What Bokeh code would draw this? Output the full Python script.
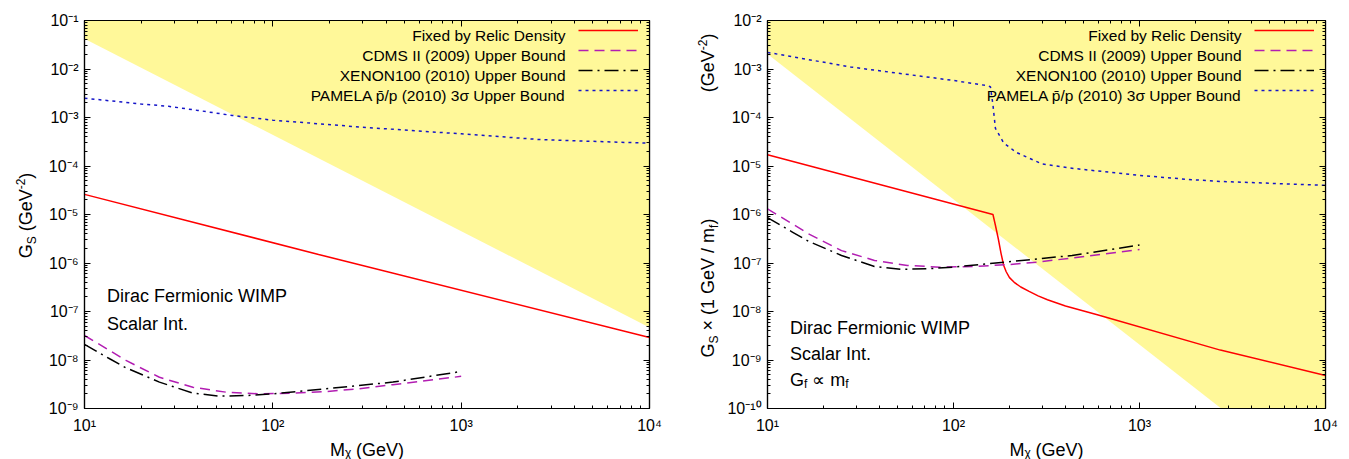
import math
from bokeh.plotting import figure
from bokeh.models import (FixedTicker, CustomJSTickFormatter, LogAxis, Label,
                          Legend, LegendItem, Range1d)
from bokeh.layouts import row
from bokeh.core.properties import value
from bokeh.embed import file_html
from bokeh.resources import INLINE

# ---------------- data ----------------
X_TICKS = [1e1, 1e2, 1e3, 1e4]
L_Y_TICKS = [1e-9, 1e-8, 1e-7, 1e-6, 1e-5, 1e-4, 1e-3, 1e-2, 1e-1]
R_Y_TICKS = [1e-10, 1e-9, 1e-8, 1e-7, 1e-6, 1e-5, 1e-4, 1e-3, 1e-2]

# left panel : G_S
L_excl_x = [10, 1e4]
L_excl_y = [0.042, 4.7e-8]
L_relic_x = [10, 175, 1e4]
L_relic_y = [2.6e-5, 1.5e-6, 2.9e-8]
L_cdms_x = [10, 13.6, 16.6, 25, 37.6, 56.5, 85, 128, 192, 288, 434, 1000]
L_cdms_y = [3.2e-8, 1.57e-8, 9.8e-9, 4.4e-9, 2.75e-9, 2.17e-9, 2.0e-9, 2.07e-9,
            2.24e-9, 2.55e-9, 3.1e-9, 4.6e-9]
L_xenon_x = [10, 13.6, 16.6, 25, 37.6, 52.1, 72.3, 100, 192, 434, 1000]
L_xenon_y = [2.09e-8, 1.06e-8, 6.9e-9, 3.5e-9, 2.07e-9, 1.8e-9, 1.85e-9, 2.0e-9,
             2.55e-9, 3.5e-9, 5.8e-9]
L_pamela_x = [10, 20, 28, 40, 61, 100, 300, 1000, 2630, 1e4]
L_pamela_y = [2.5e-3, 1.9e-3, 1.7e-3, 1.4e-3, 1.1e-3, 8.8e-4, 6.3e-4, 4.6e-4,
              3.5e-4, 2.95e-4]

# right panel : G_S x (1 GeV / m_f)
R_excl_x = [10, 2750, 1e4]
R_excl_y = [2.05e-3, 1e-10, 1e-10]
R_relic_x = [10, 163, 168, 174, 180, 186, 192, 200, 212, 230, 255, 285, 320,
             400, 600, 2720, 1e4]
R_relic_y = [1.7e-5, 1.0e-6, 6.0e-7, 3.2e-7, 1.6e-7, 9.0e-8, 6.6e-8, 5.0e-8,
             4.0e-8, 3.2e-8, 2.6e-8, 2.1e-8, 1.75e-8, 1.3e-8, 8.5e-9, 1.6e-9,
             4.8e-10]
R_cdms_x = [10, 13.6, 16.6, 25, 37.6, 56.5, 85, 128, 192, 288, 434, 1000]
R_cdms_y = [1.3e-6, 6.4e-7, 4.0e-7, 1.8e-7, 1.13e-7, 8.9e-8, 8.2e-8, 8.5e-8,
            9.2e-8, 1.05e-7, 1.27e-7, 1.9e-7]
R_xenon_x = [10, 13.6, 16.6, 25, 37.6, 52.1, 72.3, 100, 192, 434, 1000]
R_xenon_y = [8.6e-7, 4.35e-7, 2.8e-7, 1.43e-7, 8.5e-8, 7.4e-8, 7.6e-8, 8.2e-8,
             1.05e-7, 1.43e-7, 2.35e-7]
R_pamela_x = [10, 28, 100, 148, 158, 163, 168, 186, 218, 300, 443, 1000, 1807,
              2720, 1e4]
R_pamela_y = [2.2e-3, 1.1e-3, 5.8e-4, 4.6e-4, 4.3e-4, 1.8e-4, 6e-5, 3.0e-5,
              1.9e-5, 1.1e-5, 8.9e-6, 6.4e-6, 5.3e-6, 4.8e-6, 4.0e-6]

LEGEND_LABELS = ["Fixed by Relic Density", "CDMS II (2009) Upper Bound",
                 "XENON100 (2010) Upper Bound",
                 "PAMELA p\u0304/p (2010) 3\u03c3 Upper Bound"]

# ---------------- styles ----------------
FONT = "Liberation Sans"
YELLOW = "#FFF899"
RED = "#FF0000"
MAGENTA = "#B21DB2"
BLUE = "#1414C8"
FRAME_H = 388
CANVAS_H = 459

# Arial advance widths (1/1000 em)
WID = {"G": 778, "S": 667, " ": 278, "(": 333, ")": 333, "e": 556, "V": 667,
       "-": 333, "2": 556, "\u00d7": 584, "1": 556, "/": 278, "m": 833,
       "f": 278, "M": 833, "\u03c7": 520, "\u221d": 720}


def tw(s, size):
    return sum(WID.get(c, 556) for c in s) * size / 1000.0


def pw(pieces):
    return sum(tw(t, s) for t, s, _ in pieces)


FMT = CustomJSTickFormatter(code="""
const e = Math.round(Math.log10(tick));
const m = {'-':'\u207b','0':'\u2070','1':'\u00b9','2':'\u00b2','3':'\u00b3',
           '4':'\u2074','5':'\u2075','6':'\u2076','7':'\u2077','8':'\u2078','9':'\u2079'};
return '10' + String(e).split('').map(c => m[c]).join('');
""")
BLANK = CustomJSTickFormatter(code="return ' ';")


def minors(ticks):
    return [m * t for t in ticks[:-1] for m in range(2, 10)]


def style_axis(ax, ticks, labels, standoff=6):
    ax.ticker = FixedTicker(ticks=ticks, minor_ticks=minors(ticks))
    ax.major_tick_in = 6
    ax.major_tick_out = 0
    ax.minor_tick_in = 3
    ax.minor_tick_out = 0
    ax.axis_line_color = "black"
    ax.axis_line_width = 1.2
    ax.major_tick_line_color = "black"
    ax.minor_tick_line_color = "black"
    if labels:
        ax.formatter = FMT
        ax.major_label_text_font = FONT
        ax.major_label_text_font_size = "16px"
        ax.major_label_text_color = "black"
        ax.major_label_standoff = standoff
    else:
        ax.formatter = BLANK
        ax.major_label_text_font_size = "2px"
        ax.major_label_text_color = None
        ax.major_label_standoff = 0


def make_panel(yticks, fw, bl, br, excl_x, excl_y, relic, cdms, xenon, pamela,
               note_pieces):
    ytop = yticks[-1]
    p = figure(x_axis_type="log", y_axis_type="log",
               x_range=Range1d(X_TICKS[0], X_TICKS[-1]),
               y_range=Range1d(yticks[0], ytop),
               frame_width=fw, frame_height=FRAME_H,
               min_border_left=bl, min_border_right=br,
               min_border_top=20, min_border_bottom=CANVAS_H - 20 - FRAME_H,
               output_backend="svg", toolbar_location=None)
    p.grid.visible = False
    p.background_fill_color = "white"
    p.border_fill_color = "white"
    p.outline_line_color = "black"
    p.outline_line_width = 1.2
    style_axis(p.xaxis[0], X_TICKS, True, standoff=8)
    style_axis(p.yaxis[0], yticks, True)
    xa = p.xaxis[0]
    xa.axis_label = "M\u1d6a (GeV)"
    xa.axis_label_text_font = FONT
    xa.axis_label_text_font_size = "18px"
    xa.axis_label_text_font_style = "normal"
    xa.axis_label_text_color = "black"
    xa.axis_label_standoff = 3
    top = LogAxis()
    style_axis(top, X_TICKS, False)
    p.add_layout(top, "above")
    right = LogAxis()
    style_axis(right, yticks, False)
    p.add_layout(right, "right")

    ppx = fw / 3.0
    ppy = FRAME_H / (math.log10(ytop) - math.log10(yticks[0]))

    def conv(px, py):
        return (10 ** (math.log10(X_TICKS[0]) + px / ppx),
                10 ** (math.log10(ytop) - py / ppy))

    # excluded (yellow) region
    p.varea(x=excl_x, y1=excl_y, y2=[ytop] * len(excl_x), fill_color=YELLOW)

    r_relic = p.line(relic[0], relic[1], line_color=RED, line_width=1.5)
    r_cdms = p.line(cdms[0], cdms[1], line_color=MAGENTA, line_width=1.5,
                    line_dash="10 6")
    r_xen = p.line(xenon[0], xenon[1], line_color="black", line_width=1.5,
                   line_dash="14 5 2 5")
    r_pam = p.line(pamela[0], pamela[1], line_color=BLUE, line_width=1.5,
                   line_dash="3 4")

    legend = Legend(items=[LegendItem(label=value("."), renderers=[r])
                           for r in (r_relic, r_cdms, r_xen, r_pam)],
                    location="top_right", margin=5, padding=5,
                    label_standoff=5, label_width=1, label_height=10,
                    label_text_font_size="2px", label_text_color=None,
                    glyph_width=60,
                    glyph_height=10, spacing=10,
                    background_fill_alpha=0, border_line_color=None)
    p.add_layout(legend)
    for i, txt in enumerate(LEGEND_LABELS):
        x, y = conv(fw - 84, 15 + 20 * i)
        p.add_layout(Label(x=x, y=y, text=txt, text_align="right",
                           text_baseline="middle", text_font=FONT,
                           text_font_size="15.5px", text_color="black"))

    # annotations inside the frame (baseline positions, px from frame top)
    for pieces, py in note_pieces:
        pos = 0.0
        for text, size, shift in pieces:
            if text.strip():
                x, y = conv(22.5 + pos, py - shift)
                p.add_layout(Label(x=x, y=y, text=text, text_font=FONT,
                                   text_font_size=f"{size}px",
                                   text_align="left",
                                   text_baseline="alphabetic",
                                   text_color="black"))
            pos += tw(text, size)
    return p


def ylabel_fig(width, groups):
    """Narrow strip holding a rotated y-axis title built from text pieces."""
    f = figure(frame_width=width, frame_height=CANVAS_H,
               x_range=Range1d(0, width), y_range=Range1d(0, CANVAS_H),
               min_border_left=0, min_border_right=0, min_border_top=0,
               min_border_bottom=0, x_axis_location=None,
               y_axis_location=None, output_backend="svg",
               toolbar_location=None)
    f.grid.visible = False
    f.outline_line_color = None
    f.background_fill_color = "white"
    f.border_fill_color = "white"
    for pieces, xb, y_bottom in groups:
        pos = 0.0
        for text, size, shift in pieces:
            w = tw(text, size)
            if text.strip():
                cy = y_bottom - (pos + w / 2.0)          # canvas px
                cx = xb - shift - 0.33 * size           # canvas px
                f.text(x=[cx], y=[CANVAS_H - cy], text=[text],
                       angle=math.pi / 2, text_font=value(FONT),
                       text_font_size=value(f"{size}px"),
                       text_align="center", text_baseline="middle",
                       text_color="black")
            pos += w
    return f


L_ylab = [("G", 18, 0), ("S", 12, -4), (" ", 18, 0), ("(GeV", 18, 0),
          ("-2", 12, 7), (")", 18, 0)]
R_ylab_a = [("G", 18, 0), ("S", 12, -4), (" ", 18, 0),
            ("\u00d7 (1 GeV / m", 18, 0), ("f", 12, -4), (")", 18, 0)]
R_ylab_b = [("(GeV", 18, 0), ("-2", 12, 7), (")", 18, 0)]

L_notes = [([("Dirac Fermionic WIMP", 18, 0)], 275.5),
           ([("Scalar Int.", 18, 0)], 303.8)]
R_notes = [([("Dirac Fermionic WIMP", 18, 0)], 307),
           ([("Scalar Int.", 18, 0)], 333),
           ([("G", 18, 0), ("f", 12, -4), (" ", 18, 0), ("\u221d", 18, 0),
             (" ", 18, 0), ("m", 18, 0), ("f", 12, -4)], 359)]

yl1 = ylabel_fig(38, [(L_ylab, 31, 195 + pw(L_ylab) / 2.0)])
p1 = make_panel(L_Y_TICKS, 565, 46, 31, L_excl_x, L_excl_y,
                (L_relic_x, L_relic_y), (L_cdms_x, L_cdms_y),
                (L_xenon_x, L_xenon_y), (L_pamela_x, L_pamela_y), L_notes)
yl2 = ylabel_fig(40, [(R_ylab_a, 33, 337),
                      (R_ylab_b, 33, 13 + pw(R_ylab_b))])
p2 = make_panel(R_Y_TICKS, 558, 47, 24, R_excl_x, R_excl_y,
                (R_relic_x, R_relic_y), (R_cdms_x, R_cdms_y),
                (R_xenon_x, R_xenon_y), (R_pamela_x, R_pamela_y), R_notes)

layout = row(yl1, p1, yl2, p2)
open("out.html", "w").write(file_html(layout, INLINE))
